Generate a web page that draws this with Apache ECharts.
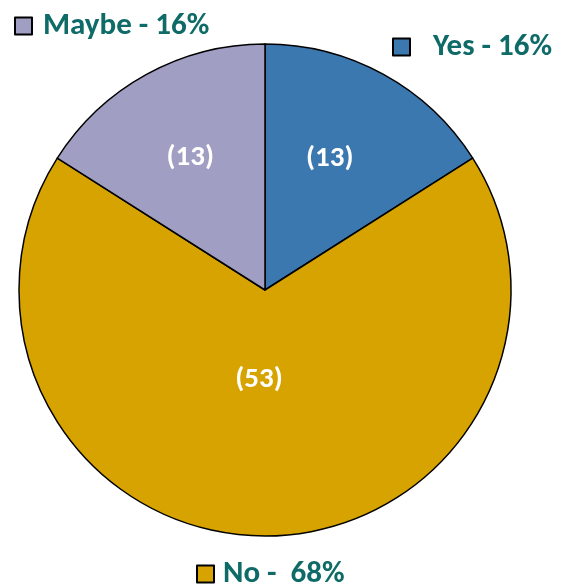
<!DOCTYPE html>
<html>
<head>
<meta charset="utf-8">
<script src="https://cdn.jsdelivr.net/npm/echarts@6/dist/echarts.min.js"></script>
<style>
  html, body { margin: 0; padding: 0; background: #fff; }
  #main { width: 562px; height: 584px; }
</style>
</head>
<body>
<div id="main"></div>
<script>
// data
var categories = ['Yes', 'No', 'Maybe'];
var percents = [16, 68, 16];   // slice sizes (as in the legend)
var counts = [13, 53, 13];     // shown inside the slices
var legendTexts = ['Yes - 16%', 'No -  68%', 'Maybe - 16%'];
var colors = ['#3b78b0', '#d6a300', '#a09ec2'];

// nudge of the inside labels (Excel puts them a bit different)
var labelShift = [[4, -21], [-6, -36], [-14, -22]];

var teal = '#0e6b67';
var fontFam = 'Carlito, Lato, "Open Sans", sans-serif';

var myChart = echarts.init(document.getElementById('main'));

function legendFor(i, pos, padLeft) {
	var l = {
		data: [categories[i]],
		orient: 'horizontal',
		icon: 'rect',
		itemWidth: 17,
		itemHeight: 17,
		itemStyle: { borderColor: '#000', borderWidth: 2 },
		selectedMode: false,
		padding: 0,
		formatter: function () { return legendTexts[i]; },
		textStyle: {
			color: teal,
			fontFamily: fontFam,
			fontWeight: 'bold',
			fontSize: 31,
			lineHeight: 34,
			padding: [12, 0, 0, padLeft]
		}
	};
	for (var k in pos) l[k] = pos[k];
	return l;
}

var pieData = [];
for (var i = 0; i < categories.length; i++) {
	pieData.push({
		name: categories[i],
		value: percents[i],
		itemStyle: { color: colors[i] }
	});
}

var option = {
	animation: false,
	backgroundColor: '#fff',
	legend: [
		legendFor(0, { left: 392, top: 24 }, 18),
		legendFor(1, { left: 196, top: 551 }, 4),
		legendFor(2, { left: 14, top: 3 }, 6)
	],
	series: [{
		type: 'pie',
		center: [265, 290],
		radius: 246,
		startAngle: 90,
		clockwise: true,
		itemStyle: { borderColor: '#000', borderWidth: 1.5 },
		label: {
			show: true,
			position: 'inside',
			formatter: function (p) { return '(' + counts[p.dataIndex] + ')'; },
			color: '#fff',
			fontFamily: fontFam,
			fontWeight: 'bold',
			fontSize: 29
		},
		labelLayout: function (p) {
			var s = labelShift[p.dataIndex];
			return { dx: s[0], dy: s[1] };
		},
		emphasis: { disabled: true },
		data: pieData
	}]
};

myChart.setOption(option);
</script>
</body>
</html>
